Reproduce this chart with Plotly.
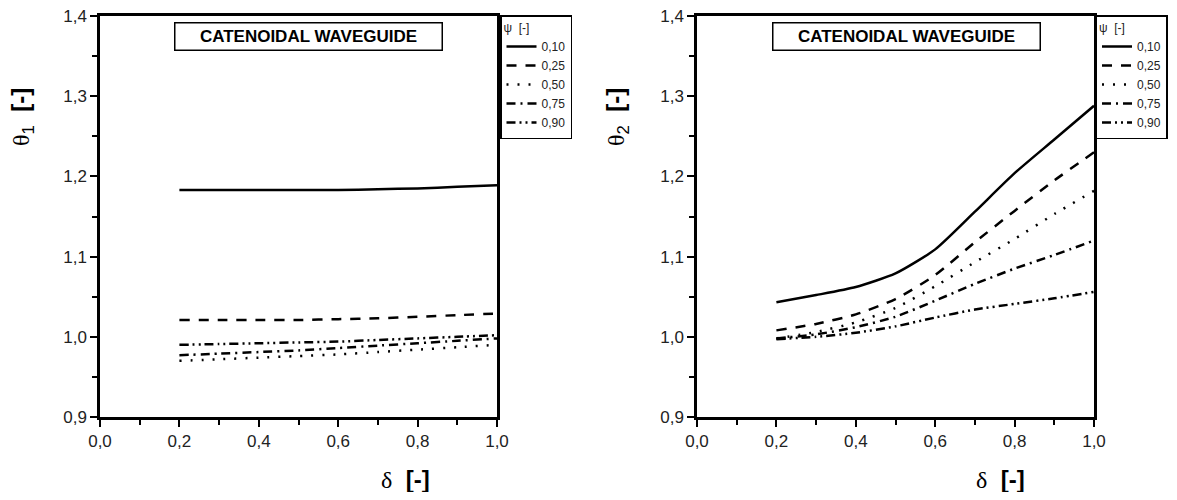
import plotly.graph_objects as go

# ---- data ----
delta = [0.2, 0.3, 0.4, 0.5, 0.6, 0.7, 0.8, 0.9, 1.0]
psi_labels = ["0,10", "0,25", "0,50", "0,75", "0,90"]

theta1_010 = [1.183, 1.183, 1.183, 1.183, 1.183, 1.184, 1.185, 1.187, 1.189]
theta1_025 = [1.021, 1.021, 1.021, 1.021, 1.022, 1.023, 1.025, 1.027, 1.029]
theta1_050 = [0.970, 0.972, 0.974, 0.976, 0.978, 0.981, 0.984, 0.987, 0.990]
theta1_075 = [0.977, 0.979, 0.981, 0.983, 0.986, 0.989, 0.992, 0.995, 0.998]
theta1_090 = [0.990, 0.991, 0.992, 0.993, 0.994, 0.996, 0.998, 1.000, 1.002]

theta2_010 = [1.043, 1.052, 1.062, 1.079, 1.109, 1.156, 1.204, 1.246, 1.288]
theta2_025 = [1.008, 1.016, 1.028, 1.047, 1.077, 1.118, 1.157, 1.195, 1.230]
theta2_050 = [0.998, 1.006, 1.018, 1.036, 1.063, 1.093, 1.122, 1.153, 1.182]
theta2_075 = [0.998, 1.003, 1.012, 1.025, 1.045, 1.066, 1.085, 1.102, 1.120]
theta2_090 = [0.997, 1.000, 1.005, 1.013, 1.024, 1.034, 1.041, 1.048, 1.056]

x_ticks = [0.0, 0.2, 0.4, 0.6, 0.8, 1.0]
y_ticks = [0.9, 1.0, 1.1, 1.2, 1.3, 1.4]

dashes = ["solid", "10px,9px", "2px,9px", "9px,5px,2px,5px", "9px,4px,2px,4px,2px,4px"]

# page body has an 8px margin on every side; keep the figure inside the window
OFF = 8
W, H = 1177 - 2 * OFF, 500 - 2 * OFF


def px(x):
    return (x - OFF) / W


def py(y):
    return 1 - (y - OFF) / H


fig = go.Figure()

left_series = [theta1_010, theta1_025, theta1_050, theta1_075, theta1_090]
right_series = [theta2_010, theta2_025, theta2_050, theta2_075, theta2_090]

for lab, ys, d in zip(psi_labels, left_series, dashes):
    fig.add_trace(go.Scatter(x=delta, y=ys, mode="lines", name=lab,
                             line=dict(color="black", width=2.5, dash=d, shape="spline", smoothing=0.6),
                             xaxis="x", yaxis="y", legend="legend"))
for lab, ys, d in zip(psi_labels, right_series, dashes):
    fig.add_trace(go.Scatter(x=delta, y=ys, mode="lines", name=lab,
                             line=dict(color="black", width=2.5, dash=d, shape="spline", smoothing=0.6),
                             xaxis="x2", yaxis="y2", legend="legend2"))

tickfont = dict(family="Liberation Sans, Arial", size=17, color="#222")


def xaxis(domain, anchor):
    return dict(domain=domain, anchor=anchor, range=[0, 1], tickvals=x_ticks,
                tickformat=".1f", showline=True, linewidth=2.5, linecolor="black",
                mirror=True, ticks="outside", ticklen=7, tickwidth=2, tickcolor="black",
                minor=dict(dtick=0.1, ticks="outside", ticklen=5, tickwidth=2, tickcolor="black"),
                showgrid=False, zeroline=False, tickfont=tickfont, fixedrange=True,
                automargin=False, ticklabeloverflow="allow")


def yaxis(domain, anchor):
    return dict(domain=domain, anchor=anchor, range=[0.9, 1.4], tickvals=y_ticks,
                tickformat=".1f", showline=True, linewidth=2.5, linecolor="black",
                mirror=True, ticks="outside", ticklen=7, tickwidth=2, tickcolor="black",
                minor=dict(dtick=0.05, ticks="outside", ticklen=5, tickwidth=2, tickcolor="black"),
                showgrid=False, zeroline=False, tickfont=tickfont, fixedrange=True,
                automargin=False, ticklabeloverflow="allow")


ydom = [py(417), py(16)]
legend_common = dict(
    yanchor="top", xanchor="left", y=py(15),
    bgcolor="white", bordercolor="black", borderwidth=1.5,
    font=dict(family="Liberation Sans, Arial", size=12, color="#222"),
    title=dict(text="\u03c8  [-]", font=dict(family="Liberation Sans, Arial", size=12, color="#222")),
    tracegroupgap=0, itemwidth=30,
)

fig.update_layout(
    width=W, height=H,
    margin=dict(l=0, r=0, t=0, b=0, autoexpand=False),
    paper_bgcolor="white", plot_bgcolor="white",
    separators=",.",
    xaxis=xaxis([px(100), px(497)], "y"),
    yaxis=yaxis(ydom, "x"),
    xaxis2=xaxis([px(697), px(1094)], "y2"),
    yaxis2=yaxis(ydom, "x2"),
    legend=dict(x=px(500), **legend_common),
    legend2=dict(x=px(1095.5), **legend_common),
)

title_font = dict(family="Liberation Sans, Arial", size=17, color="black")
for cx in [308.5, 906]:
    fig.add_annotation(text="<b>CATENOIDAL WAVEGUIDE</b>", xref="paper", yref="paper",
                       x=px(cx), y=py(36), xanchor="center", yanchor="middle",
                       showarrow=False, font=title_font, bordercolor="black",
                       borderwidth=1.5, borderpad=1, width=264, height=24, bgcolor="white")

serif = "Liberation Serif"
for cx in [405, 1000]:
    fig.add_annotation(
        text=f"<span style='font-family:{serif}'>\u03b4</span>\u00a0\u00a0<b>[-]</b>",
        xref="paper", yref="paper", x=px(cx), y=py(479), xanchor="center", yanchor="middle",
        showarrow=False, font=dict(family="Liberation Sans", size=24, color="black"))

for cx, sub in [(23, "1"), (618, "2")]:
    fig.add_annotation(
        text=f"<span style='font-family:{serif}'>\u03b8</span><sub>{sub}</sub>\u00a0\u00a0<b>[-]</b>",
        xref="paper", yref="paper", x=px(cx), y=py(117), xanchor="center", yanchor="middle",
        textangle=-90, showarrow=False,
        font=dict(family="Liberation Sans", size=24, color="black"))

fig.write_html("out.html")
